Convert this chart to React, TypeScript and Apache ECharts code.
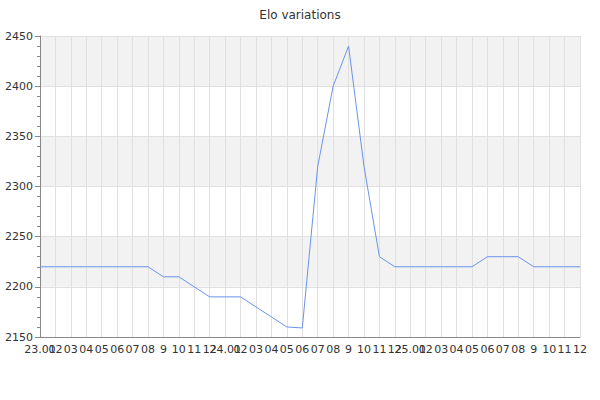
import React, { useEffect, useRef } from "react";
import * as echarts from "echarts";

const categories = [
  "23.01", "02", "03", "04", "05", "06", "07", "08", "9", "10", "11", "12",
  "24.01", "02", "03", "04", "05", "06", "07", "08", "9", "10", "11", "12",
  "25.01", "02", "03", "04", "05", "06", "07", "08", "9", "10", "11", "12",
];

const elo = [
  2220, 2220, 2220, 2220, 2220, 2220, 2220, 2220, 2210, 2210, 2200, 2190,
  2190, 2190, 2180, 2170, 2160, 2159, 2320, 2400, 2440, 2320, 2230, 2220,
  2220, 2220, 2220, 2220, 2220, 2230, 2230, 2230, 2220, 2220, 2220, 2220,
];

const yMin = 2150;
const yMax = 2450;
const yStep = 50;

export default function App() {
  const ref = useRef<HTMLDivElement>(null);
  useEffect(() => {
    if (!ref.current) return;
    const chart = echarts.init(ref.current, undefined, { renderer: "svg" });
    const font = "DejaVu Sans";
    chart.setOption({
      animation: false,
      title: {
        text: "Elo variations",
        left: "center",
        top: 4,
        textStyle: { fontFamily: font, fontSize: 12, fontWeight: "normal", color: "#333" },
      },
      grid: { left: 40, right: 20, top: 36, bottom: 63, containLabel: false },
      xAxis: {
        type: "category",
        data: categories,
        boundaryGap: false,
        axisLine: { show: true, lineStyle: { color: "#888" } },
        axisTick: { show: false },
        axisLabel: { interval: 0, fontFamily: font, fontSize: 11, color: "#333", margin: 7, hideOverlap: false },
        splitLine: { show: true, interval: 0, lineStyle: { color: "#e0e0e0", width: 1 } },
      },
      yAxis: {
        type: "value",
        min: yMin,
        max: yMax,
        interval: yStep,
        axisLine: { show: true, lineStyle: { color: "#888" } },
        axisTick: { show: true, inside: false, length: 5, lineStyle: { color: "#888", width: 1 } },
        minorTick: { show: true, splitNumber: 5, length: 3, lineStyle: { color: "#888", width: 1 } },
        axisLabel: {
          fontFamily: font,
          fontSize: 11,
          color: "#333",
          margin: 7,
          formatter: (v: number) => String(v),
        },
        splitLine: { show: true, lineStyle: { color: "#e0e0e0", width: 1 } },
        splitArea: { show: true, areaStyle: { color: ["#ffffff", "#f2f2f2"] } },
      },
      series: [
        {
          type: "line",
          data: elo,
          symbol: "none",
          lineStyle: { color: "#6a93ec", width: 1 },
        },
      ],
    });
    return () => chart.dispose();
  }, []);
  return <div ref={ref} style={{ width: 600, height: 400, position: "absolute", left: 0, top: 0 }} />;
}
